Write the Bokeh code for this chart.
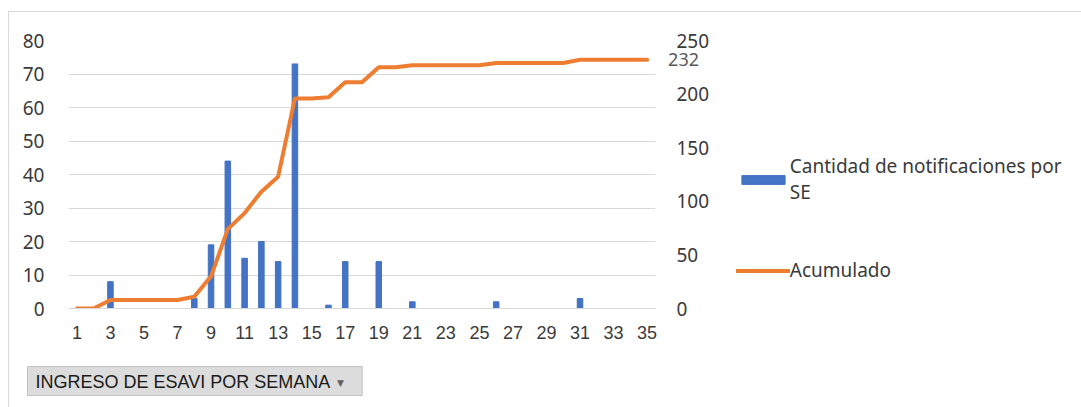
from bokeh.plotting import figure
from bokeh.models import Range1d, LinearAxis, Legend, LegendItem, Label, FixedTicker, InlineStyleSheet
from bokeh.embed import file_html
from bokeh.resources import INLINE

# ---- data ----
semanas = list(range(1, 36))
notificaciones = [0, 0, 8, 0, 0, 0, 0, 3, 19, 44, 15, 20, 14, 73, 0, 1, 14, 0, 14, 0,
                  2, 0, 0, 0, 0, 2, 0, 0, 0, 0, 3, 0, 0, 0, 0]
acumulado = [0, 0, 8, 8, 8, 8, 8, 11, 30, 74, 89, 109, 123, 196, 196, 197, 211, 211, 225, 225,
             227, 227, 227, 227, 227, 229, 229, 229, 229, 229, 232, 232, 232, 232, 232]
ticks_izq = [0, 10, 20, 30, 40, 50, 60, 70, 80]
ticks_der = [0, 50, 100, 150, 200, 250]
ticks_x = list(range(1, 36, 2))
serie_barras = "Cantidad de notificaciones por\nSE"
serie_linea = "Acumulado"
etiqueta_final = "232"
boton = "INGRESO DE ESAVI POR SEMANA"

AZUL = "#4472C4"
NARANJA = "#ED7D31"
GRIS_GRID = "#d9d9d9"
TXT = "#3a3a3a"
FONT = "Noto Sans"

# layout constants (pixels)
FL, FT, FW, FH = 68, 40, 587, 268
X0, X1, Y0, Y1 = 0.5, 35.5, 0, 80

def dx(px):   # page pixel -> x data (for decorations placed outside the frame)
    return X0 + (px - FL) * (X1 - X0) / FW

def dy(py):   # page pixel -> y data
    return Y0 + (FT + FH - py) * (Y1 - Y0) / FH

p = figure(frame_width=FW, frame_height=FH,
           x_range=Range1d(X0, X1), y_range=Range1d(Y0, Y1),
           output_backend="svg", toolbar_location=None,
           min_border_left=FL, min_border_right=1081 - FL - FW, min_border_top=FT,
           min_border_bottom=407 - FT - FH,
           outline_line_color=None, background_fill_color="white", border_fill_color="white")
p.extra_y_ranges = {"acc": Range1d(0, 250)}

bars = p.vbar(x=semanas, top=notificaciones, width=0.33, color=AZUL)
line = p.line(x=semanas, y=acumulado, y_range_name="acc", line_color=NARANJA,
              line_width=4, line_join="round", line_cap="round")

# axes
p.xaxis.ticker = FixedTicker(ticks=ticks_x)
p.xaxis.axis_line_color = GRIS_GRID
p.xaxis.axis_line_width = 1
p.xaxis.major_tick_line_color = None
p.xaxis.minor_tick_line_color = None
p.xaxis.major_tick_out = 0
p.xaxis.major_label_text_font = "Liberation Sans"
p.xaxis.major_label_text_font_size = "18px"
p.xaxis.major_label_text_color = TXT
p.xaxis.major_label_standoff = 17

p.yaxis.ticker = FixedTicker(ticks=ticks_izq)
p.yaxis.axis_line_color = None
p.yaxis.major_tick_line_color = None
p.yaxis.minor_tick_line_color = None
p.yaxis.major_tick_out = 0
p.yaxis.major_label_text_font = FONT
p.yaxis.major_label_text_font_size = "19px"
p.yaxis.major_label_text_color = TXT
p.yaxis.major_label_standoff = 24

ax_r = LinearAxis(y_range_name="acc", ticker=FixedTicker(ticks=ticks_der))
ax_r.axis_line_color = None
ax_r.major_tick_line_color = None
ax_r.minor_tick_line_color = None
ax_r.major_tick_out = 0
ax_r.major_label_text_font = FONT
ax_r.major_label_text_font_size = "19px"
ax_r.major_label_text_color = TXT
ax_r.major_label_standoff = 21
p.add_layout(ax_r, "right")

p.xgrid.visible = False
p.ygrid.grid_line_color = GRIS_GRID
p.ygrid.grid_line_width = 1

# legend
legend = Legend(items=[LegendItem(label=serie_barras, renderers=[bars]),
                       LegendItem(label=serie_linea, renderers=[line])],
                location=(-125, 25), orientation="vertical",
                glyph_width=54, glyph_height=11, label_standoff=0,
                spacing=52, padding=0, margin=0, border_line_color=None,
                background_fill_alpha=0,
                label_text_font=FONT, label_text_font_size="19px", label_text_color=TXT)
p.add_layout(legend, "right")

# data label at the end of the cumulative line (side panel: not clipped by the frame)
p.add_layout(Label(x=semanas[-1], y=acumulado[-1], y_range_name="acc", text=etiqueta_final,
                   x_offset=21, text_baseline="middle", text_font=FONT, text_font_size="18px",
                   text_color="#595959"), "right")

# filter button (label with its own box)
p.add_layout(Label(x=dx(27), y=dy(380.5), text=boton,
                   text_baseline="middle", text_font="Liberation Sans", text_font_size="18px",
                   text_color="#1a1a1a", background_fill_color="#dcdcdc",
                   border_line_color="#c2c2c2", border_line_width=1,
                   padding=dict(left=8, right=32, top=5, bottom=4)), "below")
p.add_layout(Label(x=dx(340), y=dy(382), text="▼", text_align="center",
                   text_baseline="middle", text_font="DejaVu Sans", text_font_size="9px",
                   text_color="#606060"), "below")

# chart-area border lines (top and left), drawn as a CSS overlay
p.stylesheets = [InlineStyleSheet(css=""":host { position: relative; }
:host::after { content: ""; position: absolute; left: 8px; top: 11px; right: 0; bottom: 0;
  border-left: 1px solid #d9d9d9; border-top: 1px solid #d9d9d9; pointer-events: none; z-index: 10; }""")]

open("out.html", "w").write(file_html(p, INLINE))
